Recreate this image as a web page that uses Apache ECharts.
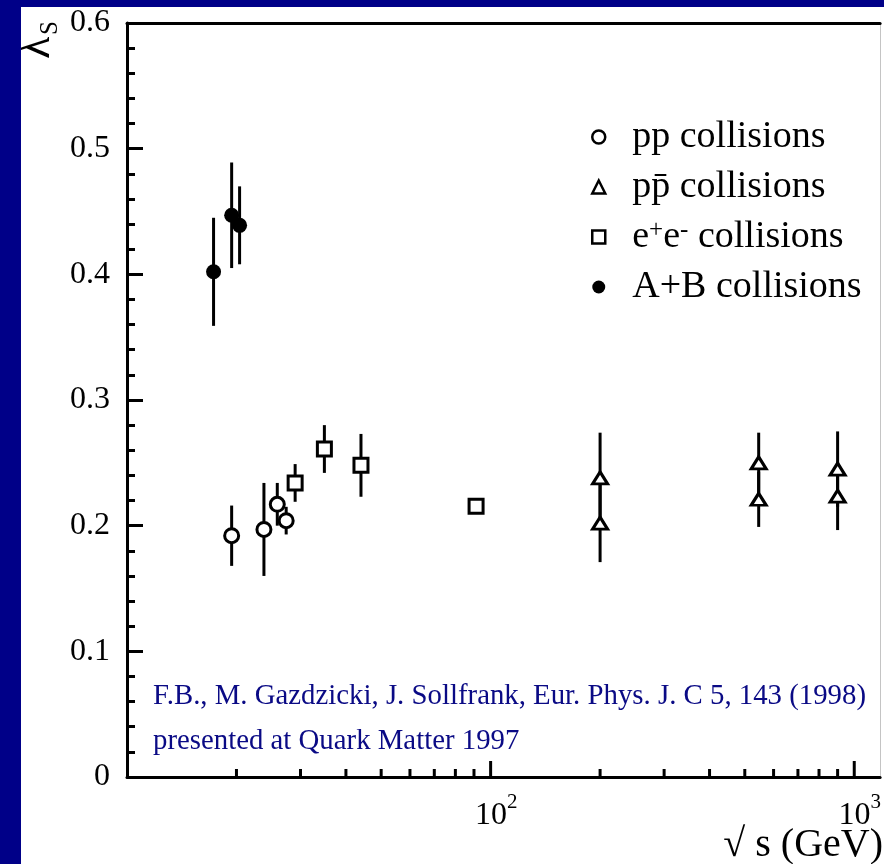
<!DOCTYPE html>
<html><head><meta charset="utf-8">
<script src="https://cdn.jsdelivr.net/npm/echarts@6/dist/echarts.min.js"></script>
<style>
html,body{margin:0;padding:0;background:#000088;width:884px;height:864px;overflow:hidden}
#c{position:absolute;left:21px;top:7px;width:863px;height:857px;background:#fff}
</style></head><body><div id="c"></div>
<script>
// ---- data ----
const ppEnergy   = [19.4, 23.8, 25.9, 27.4];
const ppLambda   = [0.192, 0.197, 0.217, 0.204];
const ppError    = [0.024, 0.037, 0.017, 0.011];

const ppbarEnergy = [200, 200, 546, 546, 900, 900];
const ppbarLambda = [0.238, 0.202, 0.250, 0.221, 0.245, 0.2235];
const ppbarError  = [0.036, 0.031, 0.024, 0.022, 0.030, 0.027];

const eeEnergy = [29.0, 34.9, 44.0, 91.2];
const eeLambda = [0.234, 0.261, 0.248, 0.2155];
const eeError  = [0.015, 0.019, 0.025, 0.004];

const abEnergy = [17.3, 19.4, 20.4];
const abLambda = [0.402, 0.447, 0.439];
const abError  = [0.043, 0.042, 0.031];

const xMajorTicks = [100, 1000];
const xMinorTicks = [20, 30, 40, 50, 60, 70, 80, 90, 200, 300, 400, 500, 600, 700, 800, 900];
const yTickLabels = ['0', '0.1', '0.2', '0.3', '0.4', '0.5', '0.6'];
const seriesNames = ['pp collisions', 'pp\u0304 collisions', 'e+e- collisions', 'A+B collisions'];
const citation = ['F.B., M. Gazdzicki, J. Sollfrank, Eur. Phys. J. C 5, 143 (1998)',
                  'presented at Quark Matter 1997'];
const xTitle = '\u221A s (GeV)';

// ---- build ----
const SERIF = '"Liberation Serif", "Times New Roman", serif';
const X_MIN = 10, X_MAX = 1178;

const zip = (xs, ys) => xs.map((x, i) => [x, ys[i]]);
const errData = [];
[[ppEnergy, ppLambda, ppError], [ppbarEnergy, ppbarLambda, ppbarError],
 [eeEnergy, eeLambda, eeError], [abEnergy, abLambda, abError]].forEach(([xs, ys, es]) => {
  xs.forEach((x, i) => errData.push([x, ys[i], es[i]]));
});

function errRender(params, api) {
  const x = api.value(0), y = api.value(1), e = api.value(2);
  const p1 = api.coord([x, y - e]), p2 = api.coord([x, y + e]);
  return { type: 'line', shape: { x1: p1[0], y1: p1[1], x2: p2[0], y2: p2[1] },
           style: { stroke: '#000', lineWidth: 3 } };
}
function tickRenderer(len) {
  return function (params, api) {
    const p = api.coord([api.value(0), 0]);
    return { type: 'line', shape: { x1: p[0], y1: p[1], x2: p[0], y2: p[1] - len },
             style: { stroke: '#000', lineWidth: 3 } };
  };
}

const CITE_FS = 29;
const ctx = document.createElement('canvas').getContext('2d');
ctx.font = CITE_FS + 'px "Liberation Serif"';
const citeScale = 713 / ctx.measureText(citation[0]).width;

const chart = echarts.init(document.getElementById('c'), null, { renderer: 'canvas' });

const hollow = { color: '#fff', borderColor: '#000', borderWidth: 3, opacity: 1 };

chart.setOption({
  animation: false,
  grid: { left: 106, top: 13, width: 756, height: 757 },
  xAxis: [{
    type: 'log', min: X_MIN, max: X_MAX,
    axisLine: { show: true, onZero: false, lineStyle: { color: '#000', width: 3 } },
    axisTick: { show: false }, minorTick: { show: false }, splitLine: { show: false },
    axisLabel: {
      margin: 15, color: '#000', fontFamily: SERIF, fontSize: 32,
      formatter: function (v) {
        const l = Math.log10(v), r = Math.round(l);
        if (Math.abs(l - r) > 1e-6 || r < 2) return '';
        return '{pad| }{base|10}{sup|' + r + '}';
      },
      rich: {
        pad: { width: 11, fontSize: 20 },
        base: { fontSize: 32, lineHeight: 32, padding: [16, 0, 0, 0], fontFamily: SERIF, color: '#000' },
        sup: { fontSize: 21, lineHeight: 21, verticalAlign: 'top', fontFamily: SERIF, color: '#000' }
      }
    }
  }, {
    type: 'log', position: 'top', min: X_MIN, max: X_MAX,
    axisLine: { show: true, onZero: false, lineStyle: { color: '#000', width: 3 } },
    axisTick: { show: false }, axisLabel: { show: false }, splitLine: { show: false }
  }],
  yAxis: [{
    type: 'value', min: 0, max: 0.6, interval: 0.1,
    axisLine: { show: true, onZero: false, lineStyle: { color: '#000', width: 3 } },
    axisTick: { show: true, inside: true, length: 16, lineStyle: { color: '#000', width: 3 } },
    minorTick: { show: true, splitNumber: 5, length: 8, lineStyle: { color: '#000', width: 3 } },
    splitLine: { show: false },
    axisLabel: {
      margin: 17, color: '#000', fontFamily: SERIF, fontSize: 32,
      formatter: v => yTickLabels[Math.round(v * 10)]
    }
  }, {
    type: 'value', position: 'right', min: 0, max: 0.6,
    axisLine: { show: true, onZero: false, lineStyle: { color: '#c4c4c4', width: 1 } },
    axisTick: { show: false }, axisLabel: { show: false }, splitLine: { show: false }
  }],
  legend: {
    orient: 'vertical', left: 565, top: 106, itemGap: 12,
    itemWidth: 13, itemHeight: 13,
    data: seriesNames,
    itemStyle: { borderWidth: 2.5, opacity: 1 },
    formatter: name => name === seriesNames[2] ? 'e{sup|+}e{sup|-} collisions' : name,
    textStyle: {
      fontFamily: SERIF, fontSize: 38, lineHeight: 38, color: '#000',
      padding: [0, 0, 0, 22],
      rich: { sup: { fontSize: 25, lineHeight: 4, verticalAlign: 'top', fontFamily: SERIF, color: '#000' } }
    }
  },
  series: [
    { type: 'custom', name: 'errors', silent: true, z: 1, data: errData,
      encode: { x: 0, y: 1 }, renderItem: errRender, clip: false },
    { type: 'custom', name: 'majorTicks', silent: true, z: 4, data: xMajorTicks.map(v => [v, 0]),
      encode: { x: 0, y: 1 }, renderItem: tickRenderer(16), clip: false },
    { type: 'custom', name: 'minorTicks', silent: true, z: 4, data: xMinorTicks.map(v => [v, 0]),
      encode: { x: 0, y: 1 }, renderItem: tickRenderer(8), clip: false },
    { type: 'scatter', name: seriesNames[0], z: 3, data: zip(ppEnergy, ppLambda),
      symbol: 'circle', symbolSize: 14, itemStyle: hollow, emphasis: { disabled: true } },
    { type: 'scatter', name: seriesNames[1], z: 3, data: zip(ppbarEnergy, ppbarLambda),
      symbol: 'triangle', symbolSize: [15, 12], itemStyle: hollow, emphasis: { disabled: true } },
    { type: 'scatter', name: seriesNames[2], z: 3, data: zip(eeEnergy, eeLambda),
      symbol: 'rect', symbolSize: 14, itemStyle: hollow, emphasis: { disabled: true } },
    { type: 'scatter', name: seriesNames[3], z: 3, data: zip(abEnergy, abLambda),
      symbol: 'circle', symbolSize: 15, itemStyle: { color: '#000', opacity: 1 }, emphasis: { disabled: true } }
  ],
  graphic: [
    { type: 'group', x: 16, y: 52, rotation: Math.PI / 2, silent: true, children: [
      { type: 'text', x: 0, y: 0, style: { text: '\u03BB', fontSize: 46, fontFamily: SERIF, fill: '#000',
        align: 'left', verticalAlign: 'middle' } },
      { type: 'text', x: 24, y: 13, style: { text: 'S', fontSize: 25, fontFamily: SERIF, fill: '#000',
        align: 'left', verticalAlign: 'middle' } }
    ]},
    { type: 'text', right: 1, top: 818, silent: true,
      style: { text: xTitle, fontSize: 40, fontFamily: SERIF, fill: '#000' } },
    { type: 'text', x: 132, y: 689, scaleX: citeScale, silent: true,
      style: { text: citation[0], fontSize: CITE_FS, fontFamily: SERIF, fill: '#0a0a85', align: 'left', verticalAlign: 'middle' } },
    { type: 'text', x: 132, y: 734, scaleX: citeScale, silent: true,
      style: { text: citation[1], fontSize: CITE_FS, fontFamily: SERIF, fill: '#0a0a85', align: 'left', verticalAlign: 'middle' } }
  ]
});
</script></body></html>
